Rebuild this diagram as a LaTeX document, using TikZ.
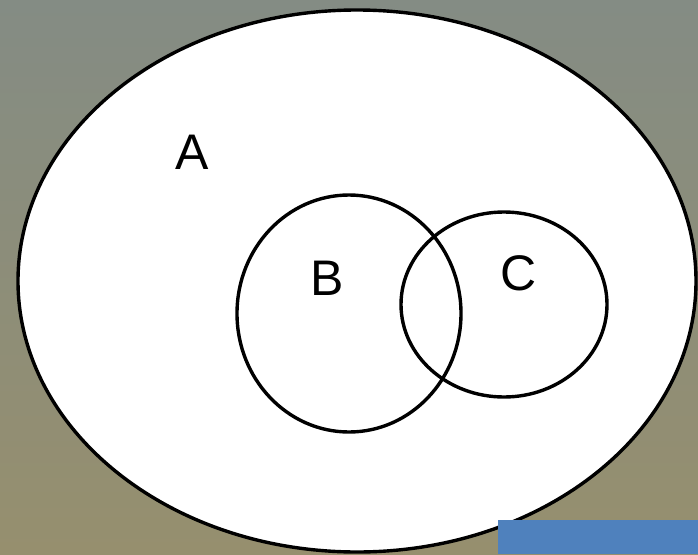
\documentclass[tikz,border=0pt]{standalone}
\usepackage{fontspec}
\setmainfont{Liberation Sans}
\definecolor{bgtop}{RGB}{132,140,132}
\definecolor{bgmid}{RGB}{118,126,104}
\definecolor{bgbot}{RGB}{150,143,110}
\definecolor{officeblue}{RGB}{79,129,189}
\begin{document}
\begin{tikzpicture}[x=1pt,y=-1pt,
  setline/.style={draw=black,line width=3.4pt},
  setlabel/.style={font=\fontsize{50}{50}\selectfont,inner sep=0pt}]
\useasboundingbox (0,0) rectangle (698,554);
\shade[top color=bgtop,middle color=bgmid,bottom color=bgbot] (0,0) rectangle (698,554);
\draw[setline,fill=white] (357,281) ellipse [x radius=339, y radius=271];
\draw[setline] (349,313.5) ellipse [x radius=112, y radius=118.5];
\draw[setline] (504,304.5) ellipse [x radius=103, y radius=92.5];
\node[setlabel] (la) at (192,152) {A};
\node[setlabel] (lb) at (327,278) {B};
\node[setlabel] (lc) at (519,273) {C};
\fill[officeblue] (498,520) rectangle (698,554);
\end{tikzpicture}
\end{document}
